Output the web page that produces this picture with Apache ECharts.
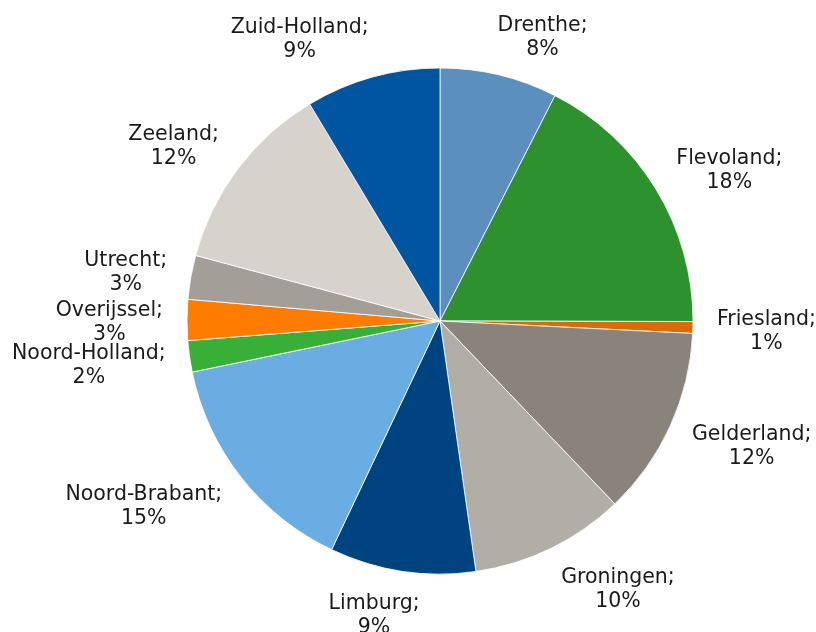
<!DOCTYPE html>
<html>
<head>
<meta charset="utf-8">
<script src="https://cdn.jsdelivr.net/npm/echarts@6/dist/echarts.min.js"></script>
<style>
  html, body { margin: 0; padding: 0; background: #fff; }
  #chart { width: 816px; height: 632px; }
</style>
</head>
<body>
<div id="chart"></div>
<script>
const provinces = ['Drenthe', 'Flevoland', 'Friesland', 'Gelderland', 'Groningen', 'Limburg',
  'Noord-Brabant', 'Noord-Holland', 'Overijssel', 'Utrecht', 'Zeeland', 'Zuid-Holland']
const shares = [7.5, 17.5, 0.75, 12.06, 9.86, 9.3, 14.7, 2.0, 2.6, 2.8, 12.2, 8.6]
const colors = ['#5a8fbe', '#2d922d', '#d96b0a', '#8a837c', '#b0aea7', '#004381',
  '#69ade3', '#38b038', '#ff7c00', '#a49e99', '#d5d3cc', '#0055a0']

const CX = 440, CY = 321, R = 253

const total = shares.reduce((a, b) => a + b, 0)
const midAngles = []
let acc = 0
shares.forEach(v => {
  midAngles.push((acc + v / 2) / total * 2 * Math.PI)
  acc += v
})

const chart = echarts.init(document.getElementById('chart'))

chart.setOption({
  animation: false,
  series: [{
    type: 'pie',
    center: [CX, CY],
    radius: R,
    startAngle: 90,
    clockwise: true,
    avoidLabelOverlap: false,
    data: provinces.map((name, i) => ({
      name,
      value: shares[i],
      itemStyle: { color: colors[i] }
    })),
    itemStyle: { borderColor: '#ffffff', borderWidth: 0.8 },
    emphasis: { disabled: true },
    label: {
      show: true,
      position: 'outside',
      formatter: p => p.name + ';\n' + Math.round(p.value) + '%',
      fontFamily: 'DejaVu Sans',
      fontSize: 20.5,
      lineHeight: 24,
      color: '#1a1a1a'
    },
    labelLine: { show: false },
    // labels buiten de taart, los van de rand zoals in het origineel
    labelLayout: params => {
      const a = midAngles[params.dataIndex]
      const s = Math.sin(a), c = Math.cos(a)
      const w = params.labelRect.width, h = params.labelRect.height
      const fx = Math.sign(s) * Math.min(1, 3.6 * Math.abs(s))
      return {
        x: CX + (R + 24) * s + fx * w / 2,
        y: CY + 3 - (R + 18) * c - c * h / 2,
        align: 'center',
        verticalAlign: 'middle'
      }
    }
  }]
})
</script>
</body>
</html>
